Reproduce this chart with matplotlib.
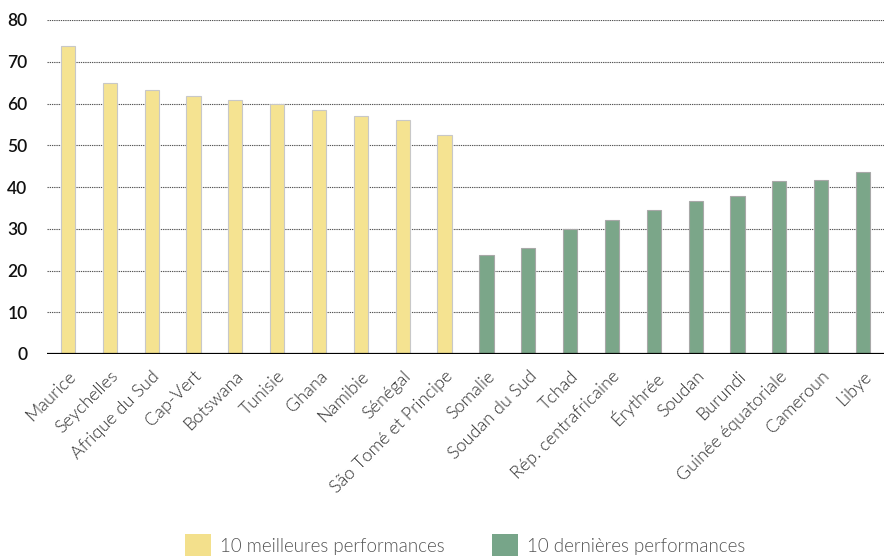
import matplotlib.pyplot as plt
from matplotlib.patches import Patch

plt.rcParams['font.family'] = ['Lato', 'DejaVu Sans']

# data
top_countries = ['Maurice', 'Seychelles', 'Afrique du Sud', 'Cap-Vert', 'Botswana',
                 'Tunisie', 'Ghana', 'Namibie', 'Sénégal', 'São Tomé et Principe']
top_values = [73.8, 64.9, 63.2, 61.8, 60.8, 59.8, 58.4, 57.0, 56.0, 52.5]

bottom_countries = ['Somalie', 'Soudan du Sud', 'Tchad', 'Rép. centrafricaine', 'Érythrée',
                    'Soudan', 'Burundi', 'Guinée équatoriale', 'Cameroun', 'Libye']
bottom_values = [23.7, 25.5, 29.9, 32.1, 34.5, 36.7, 37.8, 41.4, 41.7, 43.6]

yellow = '#F5E391'
green = '#7BA689'

fig = plt.figure(figsize=(8.84, 5.59), dpi=100)
ax = fig.add_axes([47 / 884, 205 / 559, 837 / 884, 334 / 559])

labels = top_countries + bottom_countries
x_top = list(range(len(top_countries)))
x_bot = list(range(len(top_countries), len(labels)))

ax.bar(x_top, top_values, width=0.34, color=yellow, edgecolor='#C8C8C8', linewidth=0.8, zorder=3)
ax.bar(x_bot, bottom_values, width=0.34, color=green, edgecolor='#A8A8A8', linewidth=0.8, zorder=3)

ax.set_xlim(-0.5, len(labels) - 0.5)
ax.set_ylim(0, 80)
ax.set_yticks(range(0, 81, 10))
ax.grid(axis='y', linestyle=(0, (1.2, 0.8)), color='#555555', linewidth=0.8, zorder=0)
ax.axhline(0, color='black', linewidth=1.6, zorder=4)

for s in ax.spines.values():
    s.set_visible(False)

ax.set_xticks(range(len(labels)))
ax.set_xticklabels(labels, rotation=45, ha='right', rotation_mode='anchor',
                   fontsize=13, color='#333333', fontweight=300)
ax.tick_params(axis='x', length=0, pad=10)
ax.tick_params(axis='y', length=0, pad=14, labelsize=12.5, labelcolor='#111111')
for t in ax.get_yticklabels():
    t.set_fontweight('semibold')

handles = [Patch(facecolor='#F3E08C', edgecolor='none', label='10 meilleures performances'),
           Patch(facecolor='#77A589', edgecolor='none', label='10 dernières performances')]
fig.legend(handles=handles, loc='lower center', bbox_to_anchor=(465 / 884, -0.025), ncol=2,
           frameon=False, labelcolor='#555555', handlelength=1.4,
           handleheight=1.4, handletextpad=0.5, columnspacing=2.5,
           prop={'weight': 300, 'size': 13.5})

fig.savefig('out.png', dpi=100)
plt.close(fig)
